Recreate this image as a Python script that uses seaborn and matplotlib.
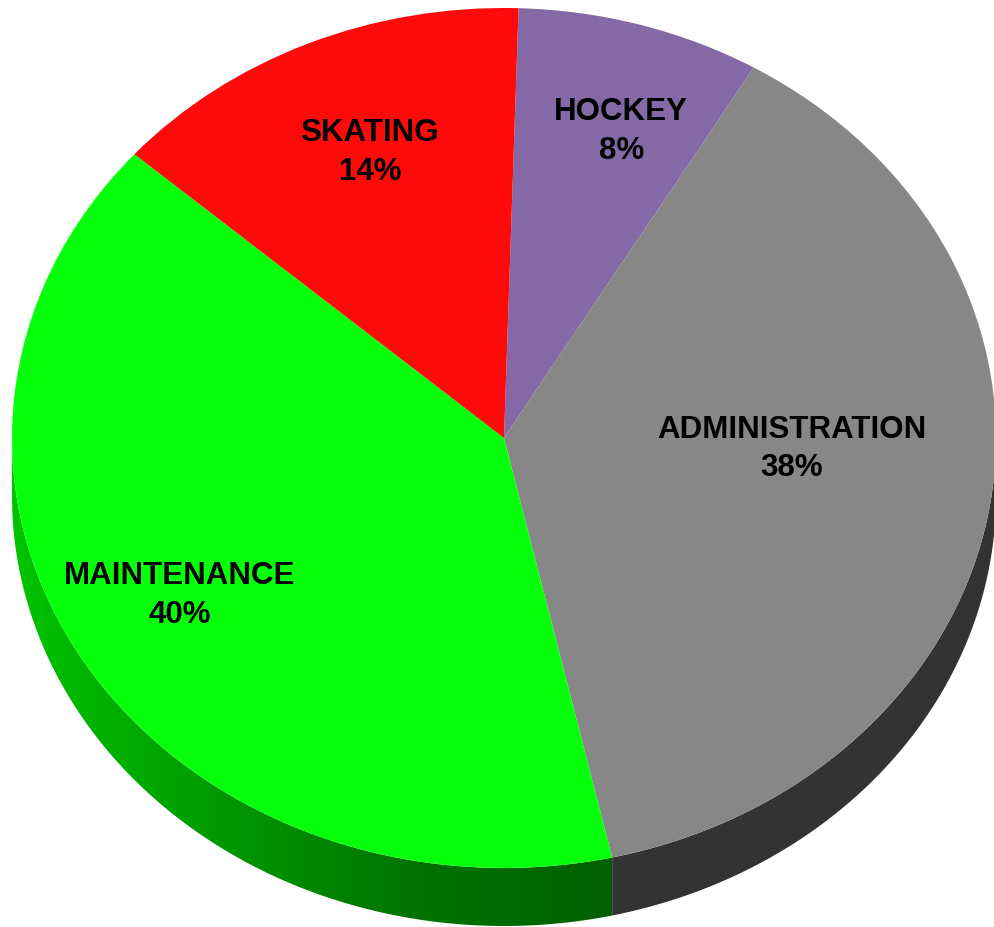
import numpy as np
import matplotlib
matplotlib.use("Agg")
import matplotlib.pyplot as plt
import seaborn as sns
from matplotlib.patches import Polygon
from matplotlib.colors import LinearSegmentedColormap

sns.set_theme(style="white")
plt.rcParams['font.family'] = ['Liberation Sans', 'DejaVu Sans']

# ---- data ----
categories = ["HOCKEY", "ADMINISTRATION", "MAINTENANCE", "SKATING"]
shares = [8, 38, 40, 14]
top_colors = ["#8469a6", "#878787", "#06ff0a", "#ff0a0a"]
side_colors = ["#5a4872", "#333333", "#006400", "#b00000"]

# ---- layout ----
W, H = 994, 927
cx, cy, rx, ry = 504, 438, 492, 430
depth = 58 / ry
start = 88.3

fig = plt.figure(figsize=(W / 100, H / 100), dpi=100)
ax = fig.add_axes([0, 0, 1, 1])

wedges, _ = ax.pie(shares, colors=top_colors, startangle=start,
                   counterclock=False, radius=1, center=(0, 0),
                   wedgeprops=dict(linewidth=0, antialiased=True))
for w in wedges:
    w.set_zorder(5)

# side walls (visible front half: angles 180..360)
grad_cmap = LinearSegmentedColormap.from_list(
    "g", ["#00c400", "#009a00", "#007400", "#006000"])
for w, sc, name in zip(wedges, side_colors, categories):
    t1, t2 = w.theta1 % 360, w.theta2 % 360
    span = (t2 - t1) % 360
    ts = t1 + np.linspace(0, span, 400)
    ts = ts % 360
    vis = ts[(ts >= 180) & (ts <= 360)]
    if len(vis) < 2:
        continue
    vis = np.sort(vis)
    rad = np.radians(vis)
    xt, yt = np.cos(rad), np.sin(rad)
    xs = np.concatenate([xt, xt[::-1]])
    ys = np.concatenate([yt, yt[::-1] - depth])
    poly = Polygon(np.column_stack([xs, ys]), closed=True,
                   facecolor=sc, edgecolor="none", zorder=2)
    ax.add_patch(poly)
    if name == "MAINTENANCE":
        poly.set_facecolor("none")
        x0, x1 = xs.min(), xs.max()
        grad = np.linspace(0, 1, 256)[None, :]
        im = ax.imshow(grad, cmap=grad_cmap, aspect="auto",
                       extent=(x0, x1, ys.min(), ys.max()),
                       zorder=3, interpolation="bilinear")
        im.set_clip_path(poly)

# labels
label_r = [0.755, 0.585, 0.752, 0.722]
label_dang = [-2.3, 6.8, -1.9, -1.3]
for w, name, s, r, da in zip(wedges, categories, shares, label_r, label_dang):
    mid = np.radians((w.theta1 + w.theta2) / 2 + da)
    ax.text(r * np.cos(mid), r * np.sin(mid) - 0.004, f"{name}\n{s}%",
            ha="center", va="center", fontsize=22.5, fontweight="bold",
            color="black", linespacing=1.38, zorder=10)

ax.set_aspect("auto")
ax.set_xlim(-cx / rx, (W - cx) / rx)
ax.set_ylim((cy - H) / ry, cy / ry)
ax.axis("off")

fig.savefig("out.png", dpi=100, facecolor="white")
